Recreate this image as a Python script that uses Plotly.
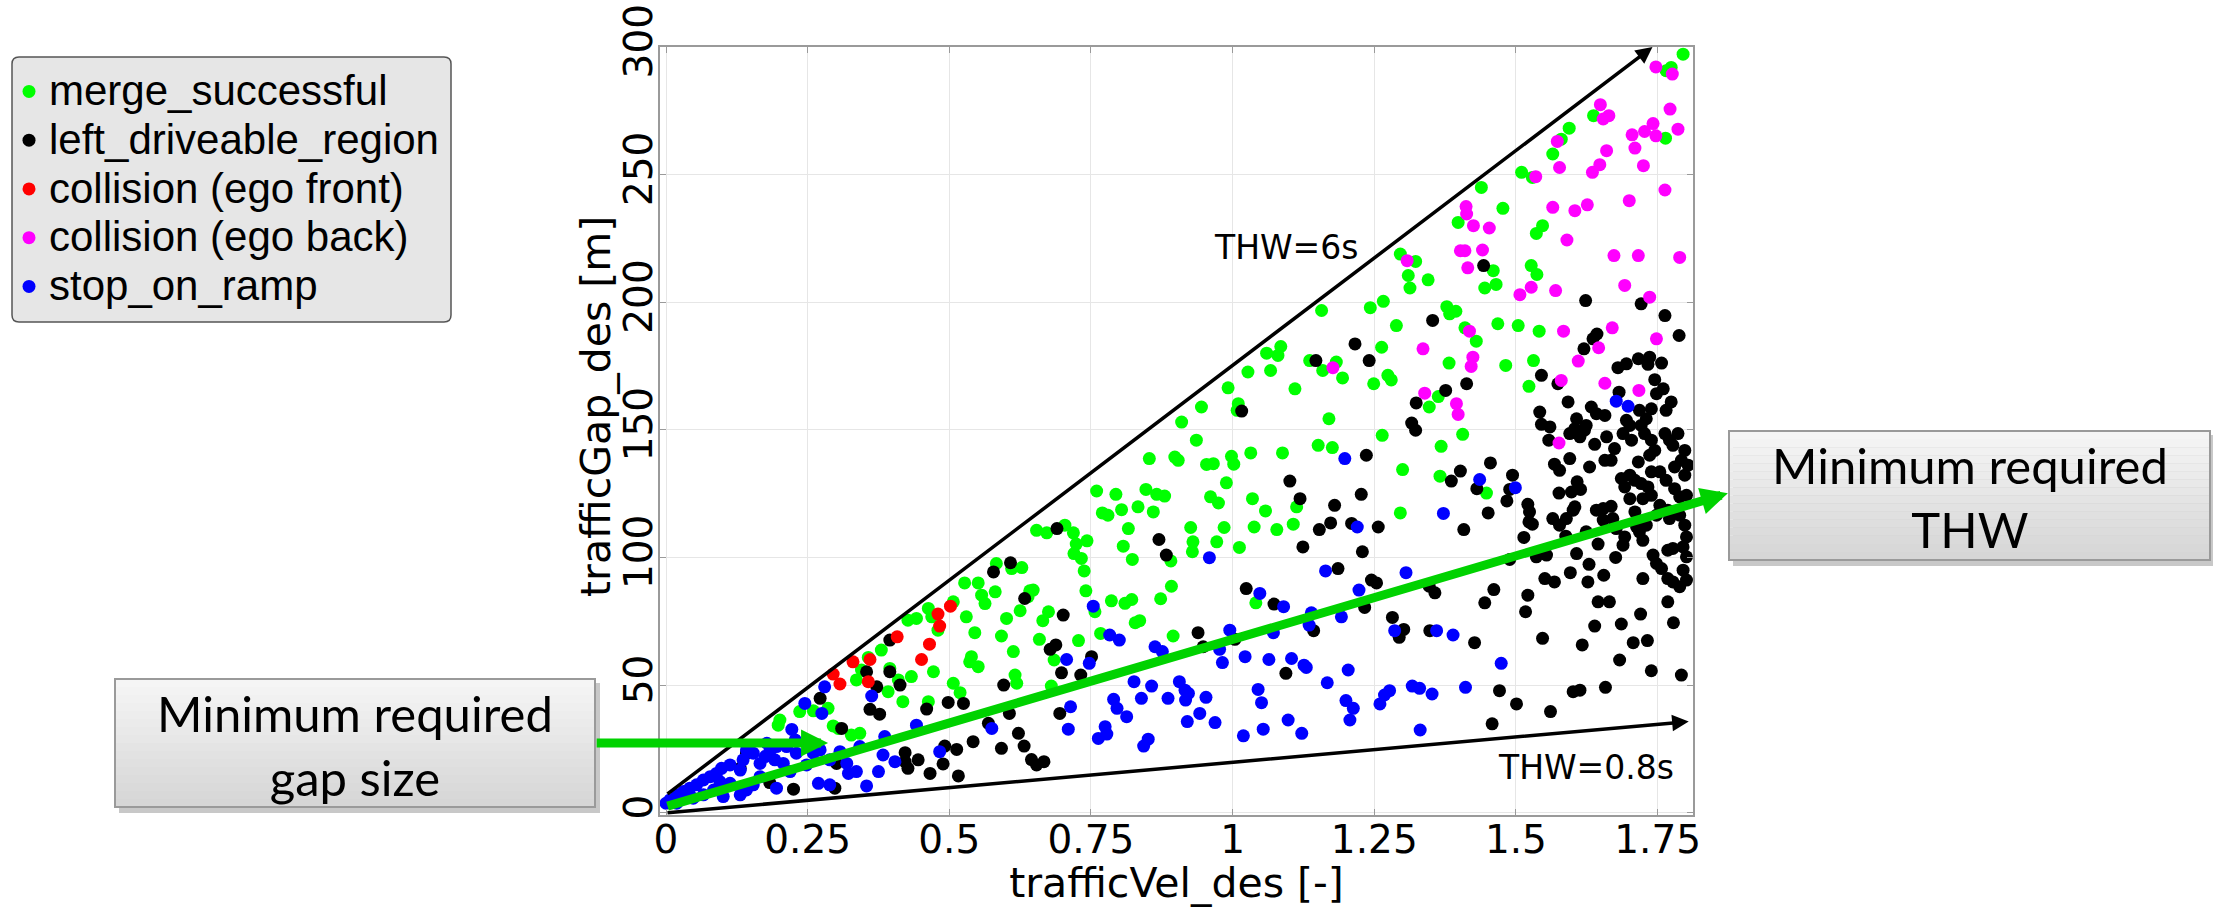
import plotly.graph_objects as go

# ---------------- data ----------------
merge_x = [0.201,0.198,0.236,0.26,0.286,0.295,0.304,0.327,0.342,0.336,0.345,0.357,0.38,0.395,0.392,0.41,0.418,0.433,0.427,0.442,0.463,0.469,0.48,0.472,0.507,0.53,0.527,0.551,0.557,0.563,0.583,0.581,0.545,0.539,0.536,0.551,0.507,0.519,0.463,
           0.945,1.01,1.008,0.91,0.936,1.17,1.151,1.176,0.853,0.898,0.904,0.954,0.966,0.998,1.002,1.032,1.088,0.989,0.76,0.794,0.847,0.866,0.88,0.77,0.78,0.804,0.833,0.86,0.961,0.975,1.035,1.058,1.113,1.107,1.078,1.038,0.985,0.926,0.93,0.929,0.972,1.012,0.816,0.807,0.823,0.891,0.892,0.873,0.654,0.672,0.704,0.719,0.724,0.743,0.72,0.733,0.738,0.741,0.61,0.628,0.642,0.648,0.639,0.601,0.625,0.675,0.665,0.592,0.659,0.613,0.685,0.616,0.619,0.68,0.728,0.757,0.786,0.81,0.822,0.828,0.836,0.767,0.895,1.041,
           1.347,1.264,1.368,1.406,1.3,1.366,1.296,1.448,
           1.157,1.085,1.08,1.06,1.136,1.159,1.183,1.194,1.027,1.067,0.992,1.11,
           1.795,1.765,1.774,1.637,1.594,1.58,1.565,1.764,1.51,1.529,1.439,1.477,1.398,1.547,1.536,1.296,1.323,1.31,1.313,1.345,1.46,1.445,1.465,1.527,1.537,1.243,1.266,1.289,1.378,1.383,1.394,1.41,1.43,1.468,1.504,1.541,1.263,1.382,1.482,1.531,1.523,1.249,1.274,1.28,1.363]
merge_y = [36.4,34.4,39.7,40.0,41.0,34.1,33.1,30.5,31.2,52.1,56.0,60.9,63.8,56.6,47.5,52.1,43.6,53.4,75.5,76.2,80.1,76.8,71.6,55.3,82.7,76.8,90.1,90.1,85.3,82.0,97.7,86.6,70.6,61.2,59.2,57.3,50.8,47.1,43.6,
           159,160.3,157.7,153.1,146,154.4,144,143.1,138.8,139.4,138.1,136.5,136.8,139.7,136.6,141,141,129.3,126.1,124.8,126.7,124.8,124.1,117.5,116.6,118.8,119.9,117.9,123.8,121.4,123.1,118.3,119.9,113.1,111,112.0,111.8,111.8,106.2,102.3,106.2,104,111.4,104.5,99.3,98.7,88.8,83.9,110.7,109.7,112.7,109.7,105.3,106.6,101.6,99.7,94.8,87,95.7,96.1,87,87.3,84.7,76.2,79.2,78.8,75.3,69.3,68,63.2,59.9,54,50.8,49.7,67.5,78.8,83.1,82.1,83.6,74.5,75.3,70.3,69.3,82.3,
           159,147.9,143.6,148.3,134.5,131.9,117.5,125.3,
           196.8,182.7,179.2,180.1,177.2,173.3,176.6,170.4,172.7,173.3,166.5,166.1,
           297.2,290.7,292,273.1,268.2,263.9,258.1,264.3,250.9,248.9,245,236.8,231.3,230,227,218.9,216,210.5,205.6,208.8,212.4,205.6,207,214.4,210.9,197.9,200.4,190.9,198.3,195.5,196.5,190,184.8,191.6,190.9,188.7,182.4,176.2,175.3,177.2,167.1,168.1,171.4,169.6,163.1]

left_x = [0.395,0.354,0.395,0.413,0.372,0.272,0.36,0.377,0.31,0.46,0.498,0.525,0.578,0.542,0.492,0.513,0.422,0.445,0.422,0.427,0.489,0.466,0.516,0.301,0.298,0.225,0.183,0.142,0.131,0.569,
          1.016,0.69,0.87,0.883,1.101,1.119,1.18,1.173,1.153,1.124,1.186,0.608,0.633,0.701,1.024,1.073,0.939,0.948,1.004,1.143,0.688,0.678,0.751,0.698,0.732,0.596,0.606,0.695,0.622,0.632,0.592,0.645,0.654,0.667,1.094,
          1.147,
          1.324,1.316,1.323,1.236,1.227,1.21,1.257,1.229,1.245,1.254,1.233,1.282,1.302,1.294,1.348,1.347,1.357,1.402,1.386,1.408,1.455,1.431,1.451,1.494,1.489,1.484,1.461,1.445,1.427,1.471,1.501,1.458,1.489,1.521,1.524,1.523,1.529,1.514,1.536,1.554,1.551,1.568,1.521,1.517,1.547,1.561,1.542,1.545,1.56,1.558,1.568,1.576,1.565,1.577,1.588,1.607,1.596,1.629,1.627,1.645,1.665,1.639,1.617,1.601,1.613,1.658,1.683,1.686,1.707,1.732,1.739,1.792,1.778,1.768,1.72,1.724,1.676,1.655,1.645,1.624,1.601,1.604,1.589,1.598,1.608,1.614,1.577,1.595,1.63,1.639,1.595,1.604,1.613,1.621,1.607,1.624,1.592,1.633,1.642,1.657,1.66,1.657,1.668,1.674,1.689,1.701,1.704,1.695,1.718,1.73,1.739,1.721,1.727,1.739,1.745,1.736,1.763,1.771,1.786,1.777,1.798,1.792,1.765,1.774,1.716,1.701,1.71,1.686,1.692,1.739,1.754,1.765,1.78,1.798,1.804,1.721,1.733,1.701,1.724,1.739,1.78,1.789,1.801,1.754,1.768,1.642,1.654,1.668,1.654,1.671,1.677,1.692,1.689,1.71,1.713,1.718,1.73,1.724,1.748,1.771,1.789,1.798,1.801,1.768,1.777,1.795,1.801,1.742,1.748,1.757,1.795,1.768,1.777,1.789,1.801,
          1.443,1.623,1.721,1.763,1.788,1.353,1.216,1.241,1.643,1.636,1.62,1.68,1.695,1.716,1.736,1.757,1.733,1.745,1.76,1.748,1.682,1.545,1.574,1.413,1.376]
left_y = [67.7,55.3,55.3,50.1,49.4,44.9,40.6,38.7,33.1,40.7,43.3,42.9,94.4,27.9,26.2,24.9,23.6,20.8,20.1,17.5,19.2,15.5,14.5,19.4,9.7,9.3,11.9,23.4,17.5,35.1,
          157.4,111.4,107.1,101,130,123.1,120.5,113.6,111,104.2,95.7,98,84,77.5,87.9,81.8,70.6,65.1,68,71.4,65.8,64.1,61.2,54.9,54,50.1,39,39,31.2,26.2,25.3,20.9,18.8,20.1,54.7,
          177.2,
          160.6,152.7,149.9,140.1,124.8,113.4,112,102.3,91.2,90.1,80.5,76.6,71.9,68.8,71.4,88.8,86.2,133.9,130,111,137.1,127.0,117.5,132.3,126.7,122.2,87.5,82.3,66.7,47.9,42.7,34.9,99.3,120.9,117.9,114,113.1,107.9,100.3,101,91.8,90.5,85.3,78.8,68.4,39.7,157,152.2,151.2,146,136.6,125.3,115.3,112.7,108.4,101.6,94.1,97.4,90.5,82.7,82.7,73.2,65.8,47.5,48.1,49.2,59.9,74,66.7,67.5,55.7,54,74.5,82.7,77.9,91.8,100.1,93.1,105.3,110.1,118.6,119.9,115.3,125.7,129.7,126.7,134.2,138.8,135.5,144.4,148.6,150.5,147.3,149.9,154.4,151.8,161,159,156.4,155.7,147.3,138.1,138.1,142.7,148.6,151.8,146,153.8,157.7,154.4,158.3,151.8,148.6,146,142,140.1,148.6,146,148.6,144,142,138.1,157.7,161,137.5,132.3,130.3,131,127.7,133.6,133.6,130.3,135.5,132.3,136.2,129,127.7,123.1,123.1,124.4,127,123.8,124.4,120.5,118.6,118.6,119.2,120.1,114.7,115.3,111.4,108.1,104.9,117.9,112,110.1,112.7,106.8,116.6,115.3,116.6,112.7,108.1,102.9,103.6,104.2,100.3,101,97.7,95.7,95.1,91.8,90.5,88.6,91.2,
          214.4,200.7,199.4,194.8,187,192.9,183.7,177.2,187.6,185.7,181.8,174.4,175.9,177.9,178.5,176.2,175.7,169.7,166.1,164.2,164.8,171.4,168.1,168.1,165.5]

front_x = [0.295,0.307,0.33,0.36,0.357,0.408,0.465,0.451,0.48,0.483,0.502]
front_y = [54.4,50.5,59.2,60.1,51.4,69.0,66.1,60.1,77.9,73.2,81.0]

back_x = [1.747,1.776,1.649,1.654,1.664,1.772,1.742,1.727,1.747,1.786,1.705,1.71,1.66,1.648,1.635,1.725,1.573,1.577,1.535,1.763,1.7,1.565,1.604,1.626,1.412,1.413,1.425,1.453,1.59,1.402,1.41,1.441,1.415,1.673,1.716,1.789,1.308,1.507,1.527,1.57,1.692,1.736,1.418,1.584,1.67,1.748,1.336,1.646,1.424,1.421,1.61,1.58,1.657,1.717,1.339,
          1.395,1.398,1.576,1.177]
back_y = [292.2,289.4,277.4,271.8,273.1,275.7,270,266.9,265.2,267.8,265.6,260.4,259.4,253.9,250.9,253.5,263,252.8,249.2,244,239.8,237.2,235.9,238.2,237.5,234.6,230,229.1,224.4,220.2,220.2,220.5,213.5,218.3,218.3,217.6,216.3,203,205.9,204.6,206.6,202,188.7,188.7,190,185.7,181.8,182.2,178.5,174.9,177,169.4,168.3,165.5,164.4,
          160.3,156.1,144.9,174.4]

stop_x = [0.28,0.245,0.275,0.222,0.363,0.442,0.386,0.483,0.575,0.383,0.404,0.375,0.336,0.322,0.319,0.354,0.269,0.289,0.195,0.248,0.272,0.26,0.307,0.289,0.23,0.213,0.195,0.178,0.183,0.175,0.192,0.207,0.166,0.154,0.136,0.131,0.113,0.098,0.089,0.078,0.066,0.054,0.042,0.031,0.019,0.007,0.0,0.095,0.113,0.084,0.066,0.048,0.131,0.142,0.101,0.154,0.166,0.219,0.142,0.228,0.342,0.019,
          0.959,1.164,1.048,1.09,0.754,0.783,0.8,0.863,0.876,0.995,0.977,0.982,1.022,1.064,1.104,1.126,1.13,1.139,1.135,1.072,0.707,0.747,0.826,0.857,0.906,0.916,0.922,0.917,0.953,0.886,0.839,0.79,0.796,0.813,0.714,0.71,0.775,0.778,0.763,0.851,0.843,0.92,0.942,0.969,1.045,1.051,1.019,1.054,1.098,1.122,1.167,
          1.198,1.22,1.436,1.499,1.372,1.306,1.223,1.192,1.286,1.36,1.389,1.204,1.474,1.2,1.213,1.207,1.26,1.268,1.277,1.317,1.33,1.352,1.411,1.331,1.677,1.698]
stop_y = [49.4,42.9,39.0,32.7,45.8,34.4,29.9,24.0,33.1,22.7,20.1,16.2,16.2,15.5,19.4,10.6,11.6,11.0,9.7,18.8,24.7,23.4,24.0,20.8,23.4,26.0,26.0,27.3,24.0,22.1,20.8,19.4,19.4,23.4,20.8,16.8,18.8,17.5,15.5,14.2,12.9,11.0,9.7,8.4,7.1,5.1,3.8,12.3,11.6,9.0,7.1,5.8,7.1,9.0,6.4,11.0,14.2,16.2,24.7,28.6,26.0,3.8,
          100,94.8,86,80.8,81,69.7,67.7,65.1,63.2,71.6,64.1,58.9,61.2,60.1,60.5,57.9,57,78.4,73.6,70.6,60.1,58.6,51.4,49.7,51.4,48.1,46.8,44.2,45.3,44.9,44.9,44.5,41,37.7,41.6,32.8,33.8,30.9,29.2,28.9,26.2,35.8,39,35.4,48.4,43.2,30.2,32.8,36.4,31.2,51,
          138.8,112,130.6,127.4,117.3,94.1,87.3,76.8,71.4,71.4,69.7,56,58.6,44,41,36.4,42.7,46.2,47.9,49.7,48.8,46.6,49.2,32.5,161.3,159.3]

series = [
    ("merge_successful", merge_x, merge_y, "#00ff00"),
    ("left_driveable_region", left_x, left_y, "#000000"),
    ("collision (ego front)", front_x, front_y, "#ff0000"),
    ("collision (ego back)", back_x, back_y, "#ff00ff"),
    ("stop_on_ramp", stop_x, stop_y, "#0000ff"),
]

x_ticks = [0, 0.25, 0.5, 0.75, 1, 1.25, 1.5, 1.75]
x_tick_text = ["0", "0.25", "0.5", "0.75", "1", "1.25", "1.5", "1.75"]
y_ticks = [0, 50, 100, 150, 200, 250, 300]

# reference lines (start -> arrow tip), data units
thw6_line = [(0.0, 7.0), (1.741, 300.0)]
thw08_line = [(0.0, 0.0), (1.805, 35.8)]
min_thw_line = [(0.0, 2.5), (1.874, 125.2)]
gap_arrow = [(-0.125, 27.4), (0.286, 27.4)]

# ---------------- layout geometry ----------------
W, H = 2213, 907
ML, MR, MT, MB = 660, 520, 47, 92
PW, PH = W - ML - MR, H - MT - MB


def fx(p):
    return (p - ML) / PW


def fy(p):
    return (H - MB - p) / PH


fig = go.Figure()
for name, xs, ys, col in series:
    fig.add_trace(go.Scatter(x=xs, y=ys, mode="markers",
                             name=f"<span style='font-size:42px'>{name}</span>",
                             marker=dict(color=col, size=13, line=dict(width=0))))

shapes = []


def grad_box(x0, y0, x1, y1):
    shapes.append(dict(type="rect", xref="paper", yref="paper", x0=fx(x0 + 4), x1=fx(x1 + 5), y0=fy(y1 + 6), y1=fy(y0 + 4),
                       fillcolor="#c8c8c8", line=dict(width=0), layer="above"))
    n = 16
    top, bot = 245, 214
    for i in range(n):
        c = int(round(top + (bot - top) * i / (n - 1)))
        ya = y0 + (y1 - y0) * i / n
        yb = y0 + (y1 - y0) * (i + 1) / n
        shapes.append(dict(type="rect", xref="paper", yref="paper", x0=fx(x0), x1=fx(x1), y0=fy(yb), y1=fy(ya),
                           fillcolor=f"rgb({c},{c},{c})", line=dict(width=0), layer="above"))
    shapes.append(dict(type="rect", xref="paper", yref="paper", x0=fx(x0), x1=fx(x1), y0=fy(y1), y1=fy(y0),
                       fillcolor="rgba(0,0,0,0)", line=dict(color="#9a9a9a", width=2), layer="above"))


def rounded(x0, y0, x1, y1, r):
    return (f"M {fx(x0 + r)},{fy(y0)} L {fx(x1 - r)},{fy(y0)} Q {fx(x1)},{fy(y0)} {fx(x1)},{fy(y0 + r)} "
            f"L {fx(x1)},{fy(y1 - r)} Q {fx(x1)},{fy(y1)} {fx(x1 - r)},{fy(y1)} "
            f"L {fx(x0 + r)},{fy(y1)} Q {fx(x0)},{fy(y1)} {fx(x0)},{fy(y1 - r)} "
            f"L {fx(x0)},{fy(y0 + r)} Q {fx(x0)},{fy(y0)} {fx(x0 + r)},{fy(y0)} Z")


shapes.append(dict(type="path", xref="paper", yref="paper", path=rounded(12, 57, 451, 322, 7),
                   fillcolor="#e6e6e6", line=dict(color="#555555", width=1.5), layer="above"))
grad_box(1729, 431, 2210, 560)
grad_box(115, 679, 595, 807)

ann = []


def arrow(seg, color, width, size):
    (x0, y0), (x1, y1) = seg
    ann.append(dict(x=x1, y=y1, ax=x0, ay=y0, xref="x", yref="y", axref="x", ayref="y", text="",
                    showarrow=True, arrowhead=2, arrowwidth=width, arrowsize=size, arrowcolor=color))


arrow(thw6_line, "#000000", 3.5, 0.95)
arrow(thw08_line, "#000000", 3.5, 0.95)
arrow(min_thw_line, "#00d200", 9, 0.6)
arrow(gap_arrow, "#00d200", 9, 0.6)

ann.append(dict(x=1.094, y=221.4, xref="x", yref="y", text="THW=6s", showarrow=False,
                font=dict(family="DejaVu Sans", size=33, color="black")))
ann.append(dict(x=1.623, y=18.0, xref="x", yref="y", text="THW=0.8s", showarrow=False,
                font=dict(family="DejaVu Sans", size=33, color="black")))
ann.append(dict(x=fx(1969.5), y=fy(497), xref="paper", yref="paper", xanchor="center", yanchor="middle",
                text="Minimum required<br>THW", showarrow=False,
                font=dict(family="Lato", size=49, color="black")))
ann.append(dict(x=fx(355), y=fy(745), xref="paper", yref="paper", xanchor="center", yanchor="middle",
                text="Minimum required<br>gap size", showarrow=False,
                font=dict(family="Lato", size=49, color="black")))
ann.append(dict(x=fx(596), y=fy(407), xref="paper", yref="paper", xanchor="center", yanchor="middle",
                text="trafficGap_des [m]", textangle=-90, showarrow=False,
                font=dict(family="DejaVu Sans", size=41, color="black")))

axis_common = dict(showline=True, mirror="ticks", linecolor="#9a9a9a", linewidth=2,
                   showgrid=True, gridcolor="#e6e6e6", gridwidth=1, zeroline=False,
                   ticks="inside", ticklen=6, tickcolor="#9a9a9a", automargin=False,
                   tickfont=dict(family="DejaVu Sans", size=39, color="black"))

fig.update_layout(
    width=W, height=H,
    margin=dict(l=ML, r=MR, t=MT, b=MB, autoexpand=False),
    paper_bgcolor="white", plot_bgcolor="white",
    xaxis=dict(range=[-0.0106, 1.8125], tickvals=x_ticks, ticktext=x_tick_text, ticklabelstandoff=-11,
               title=dict(text="trafficVel_des [-]", font=dict(family="DejaVu Sans", size=41, color="black"), standoff=17),
               **axis_common),
    yaxis=dict(range=[-0.8, 300], tickvals=y_ticks, tickangle=-90, ticklabelstandoff=-10, **axis_common),
    showlegend=True,
    legend=dict(x=fx(9), y=fy(62), xanchor="left", yanchor="top", bgcolor="rgba(0,0,0,0)",
                font=dict(family="Liberation Sans, Arial", size=35.2, color="black"),
                itemsizing="trace", tracegroupgap=0),
    shapes=shapes, annotations=ann,
)

fig.write_html("out.html")
